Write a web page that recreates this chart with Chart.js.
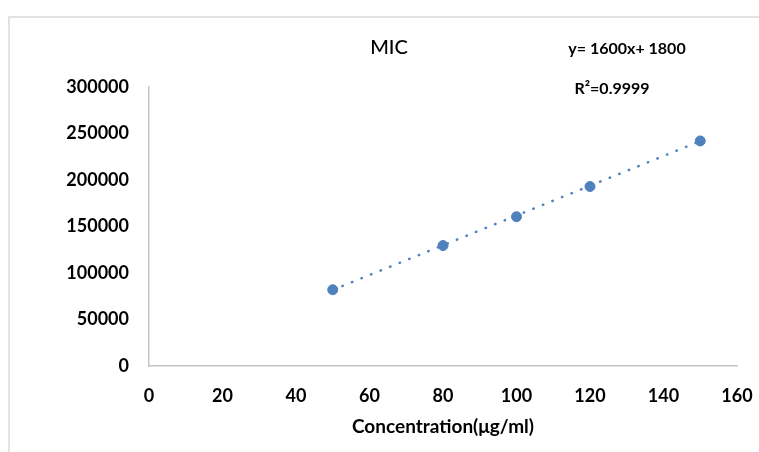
<!DOCTYPE html>
<html>
<head>
<meta charset="utf-8">
<script src="https://cdn.jsdelivr.net/npm/chart.js@4"></script>
<style>
  html, body { margin: 0; padding: 0; background: #ffffff; }
  #wrap { position: relative; width: 759px; height: 452px; }
  canvas { display: block; }
</style>
</head>
<body>
<div id="wrap"><canvas id="c" width="759" height="452"></canvas></div>
<script>
// ---- data ----
const concentrations = [50, 80, 100, 120, 150];
const micValues = [82000, 129500, 160500, 193000, 242000];
const trendX = [50, 150];
const trendY = [81800, 241800];
const xTicks = [0, 20, 40, 60, 80, 100, 120, 140, 160];
const yTicks = [0, 50000, 100000, 150000, 200000, 250000, 300000];
const chartTitle = 'MIC';
const equationText = 'y= 1600x+ 1800';
const rSquaredText = 'R²=0.9999';
const xAxisTitle = 'Concentration(μg/ml)';

const BLUE = '#4f81bd';
const FONT = 'Lato, "Open Sans", "Liberation Sans", sans-serif';

const scatterPoints = concentrations.map((x, i) => ({ x: x, y: micValues[i] }));
const trendPoints = trendX.map((x, i) => ({ x: x, y: trendY[i] }));

const annotations = {
  id: 'annotations',
  beforeDraw(chart) {
    const ctx = chart.ctx;
    ctx.save();
    ctx.strokeStyle = '#e3e3e3';
    ctx.lineWidth = 2;
    ctx.beginPath();
    ctx.moveTo(9, 452);
    ctx.lineTo(9, 17);
    ctx.lineTo(759, 17);
    ctx.stroke();
    ctx.restore();
  },
  afterDraw(chart) {
    const ctx = chart.ctx;
    ctx.save();
    ctx.fillStyle = '#000000';
    ctx.textAlign = 'center';
    ctx.textBaseline = 'middle';
    ctx.font = '500 20px ' + FONT;
    ctx.fillText(chartTitle, 389, 48);
    ctx.font = 'bold 16px ' + FONT;
    ctx.fillText(equationText, 627, 49);
    ctx.fillText(rSquaredText, 612, 89);
    ctx.restore();
  }
};

new Chart(document.getElementById('c'), {
  type: 'scatter',
  data: {
    datasets: [
      {
        label: 'MIC',
        data: scatterPoints,
        backgroundColor: BLUE,
        borderColor: BLUE,
        pointRadius: 5,
        pointHoverRadius: 5,
        order: 1
      },
      {
        label: 'Trend',
        type: 'line',
        data: trendPoints,
        borderColor: BLUE,
        borderWidth: 2.5,
        borderDash: [0.5, 9.8],
        borderCapStyle: 'round',
        pointRadius: 0,
        fill: false,
        order: 2
      }
    ]
  },
  options: {
    responsive: false,
    animation: false,
    devicePixelRatio: 1,
    layout: { padding: { left: 0, right: 22, top: 87, bottom: 0 } },
    plugins: {
      legend: { display: false },
      title: { display: false },
      tooltip: { enabled: false }
    },
    scales: {
      x: {
        type: 'linear',
        min: xTicks[0],
        max: xTicks[xTicks.length - 1],
        afterBuildTicks(scale) { scale.ticks = xTicks.map(v => ({ value: v })); },
        afterFit(scale) { scale.height = 86; scale.paddingLeft = 0; scale.paddingRight = 0; },
        grid: { display: false, drawTicks: false },
        border: { display: true, color: '#c6c6c6', width: 1.5 },
        ticks: {
          color: '#000000',
          font: { family: FONT, size: 18, weight: 'bold' },
          padding: 19,
          maxRotation: 0
        },
        title: {
          display: true,
          text: xAxisTitle,
          color: '#000000',
          font: { family: FONT, size: 19, weight: 'bold' },
          padding: { top: 0, bottom: 14 }
        }
      },
      y: {
        type: 'linear',
        min: yTicks[0],
        max: yTicks[yTicks.length - 1],
        afterBuildTicks(scale) { scale.ticks = yTicks.map(v => ({ value: v })); },
        afterFit(scale) { scale.width = 149; scale.paddingTop = 0; scale.paddingBottom = 0; },
        grid: { display: false, drawTicks: false },
        border: { display: true, color: '#c6c6c6', width: 1.5 },
        ticks: {
          color: '#000000',
          font: { family: FONT, size: 18, weight: 'bold' },
          padding: 20,
          callback: v => String(v)
        }
      }
    }
  },
  plugins: [annotations]
});
</script>
</body>
</html>
